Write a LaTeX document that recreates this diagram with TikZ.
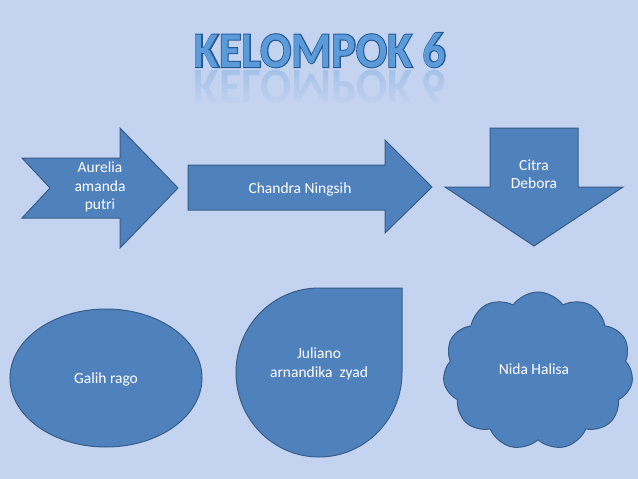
\documentclass[tikz,border=0pt]{standalone}
\usepackage{fontspec}
\setmainfont{Carlito}
\newfontfamily\titleoutline[BoldFeatures={FakeBold=4}]{Carlito}
\usetikzlibrary{shapes.symbols,fadings}
\definecolor{bgc}{RGB}{196,211,240}
\definecolor{shapefill}{RGB}{79,129,189}
\definecolor{shapeline}{RGB}{56,93,138}
\definecolor{titlefill}{RGB}{92,155,218}
\definecolor{titleline}{RGB}{38,90,145}
\tikzset{
  shapebox/.style={fill=shapefill,draw=shapeline,line width=1pt,line join=miter},
  lbl/.style={text=white,align=center,inner sep=0pt,font=\fontsize{15.5}{18.5}\selectfont},
  titletext/.style={inner sep=0pt,xscale=0.92,font=\fontsize{50}{56}\selectfont\bfseries}
}
\begin{document}
\begin{tikzpicture}[x=1pt,y=-1pt]
\useasboundingbox (0,0) rectangle (638,479);
\fill[bgc] (0,0) rectangle (638,479);
% title reflection
\node[titletext,anchor=base,yscale=-1,text=titlefill,opacity=0.3] (titleref) at (320,70) {KELOMPOK 6};
\fill[bgc,path fading=north] (150,69) rectangle (490,106);
% title
\node[titletext,anchor=base,text=titleline,font=\fontsize{50}{56}\selectfont\titleoutline\bfseries] (titleback) at (320,67) {KELOMPOK 6};
\node[titletext,anchor=base,text=titlefill] (title) at (320,67) {KELOMPOK 6};
% notched arrow
\path[shapebox] (22,158) -- (120,158) -- (120,128) -- (178,188) -- (120,248) -- (120,218) -- (22,218) -- (50,188) -- cycle;
\node[lbl] (aurelia) at (100,187) {Aurelia\\amanda\\putri};
% right arrow
\path[shapebox] (188,165) -- (385,165) -- (385,140) -- (432,187) -- (385,233) -- (385,210) -- (188,210) -- cycle;
\node[lbl] (chandra) at (300,189) {Chandra Ningsih};
% down arrow
\path[shapebox] (490,128) -- (578,128) -- (578,187) -- (623,187) -- (534,246) -- (445,187) -- (490,187) -- cycle;
\node[lbl] (citra) at (534,174) {Citra\\Debora};
% ellipse
\path[shapebox] (106,378) ellipse [x radius=96, y radius=69];
\node[lbl] (galih) at (106,379) {Galih rago};
% teardrop
\path[shapebox] (402,288) -- (402,372.5) arc[start angle=0, end angle=270, x radius=83, y radius=84.5] -- cycle;
\node[lbl] (juliano) at (319,364) {Juliano\\arnandika\ \ zyad};
% cloud
\node[shapebox,shape=cloud,cloud puffs=11,cloud puff arc=110,aspect=1.2,minimum width=190pt,minimum height=158pt] (cloud) at (538,371) {};
\node[lbl] (nida) at (534,369) {Nida Halisa};
\end{tikzpicture}
\end{document}
